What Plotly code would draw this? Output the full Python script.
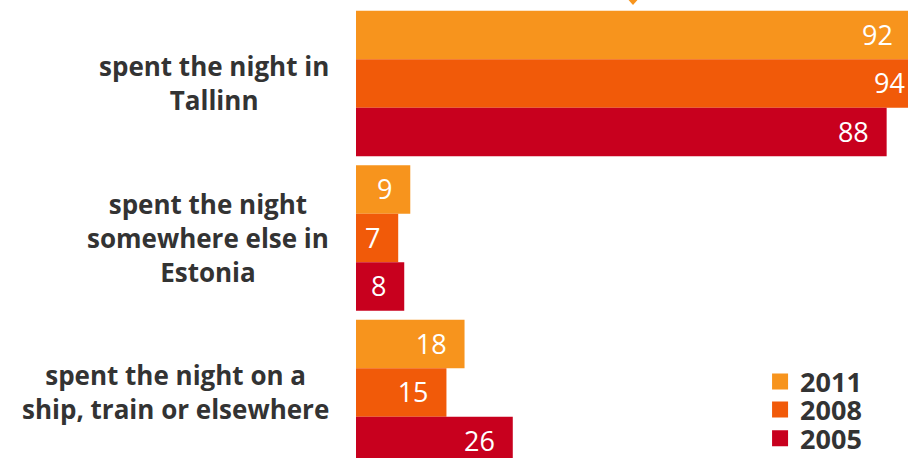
import plotly.graph_objects as go

# Where visitors stayed overnight, share of respondents (%)
categories = [
    "spent the night in<br>Tallinn",
    "spent the night<br>somewhere else in<br>Estonia",
    "spent the night on a<br>ship, train or elsewhere",
]
years = ["2011", "2008", "2005"]
values_2011 = [92, 9, 18]
values_2008 = [94, 7, 15]
values_2005 = [88, 8, 26]

series = {"2011": values_2011, "2008": values_2008, "2005": values_2005}
colors = {"2011": "#F7941D", "2008": "#F15A09", "2005": "#C8001E"}
legend_ids = {"2011": "legend", "2008": "legend2", "2005": "legend3"}
legend_y = {"2011": 0.166, "2008": 0.105, "2005": 0.042}

BAR_W = 0.314          # bar thickness in group units
LABEL_NUDGE = 0.02     # small downward nudge for value labels
FONT = "Open Sans"

fig = go.Figure()
for k, year in enumerate(years):
    offset = (k - 1) * BAR_W
    ys = [g + offset for g in range(len(categories))]
    vals = series[year]
    fig.add_trace(go.Bar(
        x=vals, y=ys, orientation="h", width=BAR_W,
        marker=dict(color=colors[year], line_width=0),
        showlegend=False, hoverinfo="skip",
    ))
    # value labels sitting just inside the bar end
    fig.add_trace(go.Scatter(
        x=vals, y=[y + LABEL_NUDGE for y in ys],
        mode="markers+text", text=[str(v) for v in vals],
        textposition="middle left",
        marker=dict(size=27, opacity=0),
        textfont=dict(family=FONT, size=27, color="white"),
        cliponaxis=True, showlegend=False, hoverinfo="skip",
    ))
    # legend entry
    fig.add_trace(go.Scatter(
        x=[None], y=[None], mode="markers", name=year,
        marker=dict(symbol="square", size=16, color=colors[year]),
        legend=legend_ids[year], hoverinfo="skip",
    ))

annotations = [
    dict(x=0, xref="paper", xanchor="right", xshift=-25,
         y=g, yref="y", yanchor="middle",
         text=cat, showarrow=False, align="center",
         font=dict(family=FONT, size=26, color="#333333", weight=700))
    for g, cat in enumerate(categories)
]

legend_style = dict(
    x=0.732, xanchor="left", yanchor="middle",
    bgcolor="rgba(0,0,0,0)", borderwidth=0,
    font=dict(family=FONT, size=27, color="#333333", weight=700),
    itemclick=False, itemdoubleclick=False,
)
layout_legends = {
    legend_ids[y]: dict(legend_style, y=legend_y[y]) for y in years
}

# small pointer at the top edge
cx, hw = 0.5018, 0.0145
tip, top = 1 - 5 / 458, 1 + 4 / 458
pointer = dict(
    type="path", xref="paper", yref="paper",
    path=f"M {cx - hw},{top} L {cx + hw},{top} L {cx},{tip} Z",
    fillcolor="#F7941D", line_width=0,
)

fig.update_layout(
    width=908, height=458,
    margin=dict(l=356, r=0, t=0, b=0, autoexpand=False),
    paper_bgcolor="white", plot_bgcolor="white",
    xaxis=dict(range=[0, 91.54], visible=False, fixedrange=True),
    yaxis=dict(range=[2.424, -0.540], visible=False, fixedrange=True),
    annotations=annotations,
    shapes=[pointer],
    **layout_legends,
)

fig.write_html("out.html", config={"displayModeBar": False})
